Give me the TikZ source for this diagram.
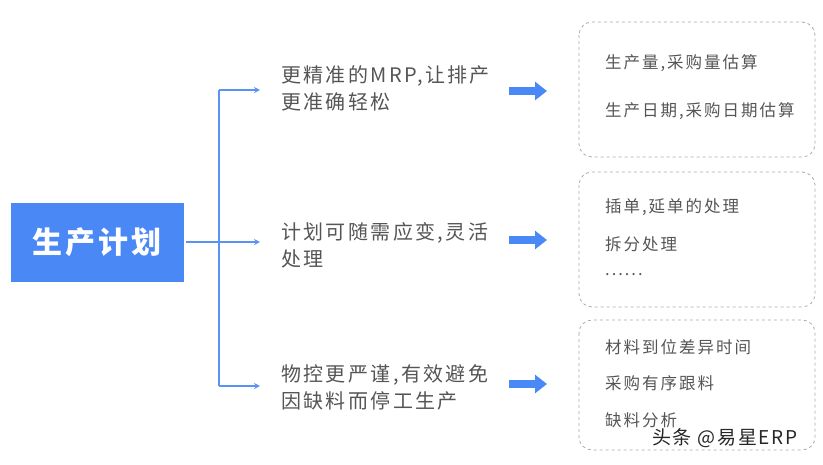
\documentclass[tikz,border=0pt]{standalone}
\usepackage{fontspec}
\setmainfont{Noto Sans CJK SC}
\usetikzlibrary{arrows.meta}
\definecolor{mainblue}{HTML}{4A88F6}
\definecolor{linkblue}{HTML}{5B93F5}
\definecolor{txtgray}{HTML}{555555}
\definecolor{boxgray}{HTML}{AAAAAA}
\tikzset{
  x=1pt, y=-1pt,
  thin arrow/.style={draw=linkblue, line width=1.2pt, -{Stealth[length=6pt,width=6pt]}},
  big arrow/.style={draw=mainblue, line width=7.5pt, -{Triangle[length=12pt,width=18pt]}},
  branch text/.style={anchor=north west, align=left, text=txtgray, font=\fontsize{20}{27}\selectfont\addfontfeature{LetterSpace=12}, inner sep=0pt},
  dash box/.style={draw=boxgray, dashed, line width=0.8pt, rounded corners=13pt},
  item text/.style={anchor=west, text=txtgray, font=\fontsize{16.5}{18}\selectfont\addfontfeature{LetterSpace=12}, inner sep=0pt},
}
\begin{document}
\begin{tikzpicture}
\useasboundingbox (0,0) rectangle (823,465);
\node[fill=mainblue, minimum width=173pt, minimum height=79pt, inner sep=0pt, text=white,
  font=\fontsize{30}{32}\selectfont\bfseries\addfontfeature{LetterSpace=11}] (main) at (97,242.5) {生产计划};
\coordinate (split) at (219,242);
\coordinate (topc) at (219,90);
\coordinate (botc) at (219,386);
\coordinate (topend) at (260,90);
\coordinate (midend) at (260,242);
\coordinate (botend) at (260,386);
\draw[thin arrow] (186,242) -- (midend);
\draw[draw=linkblue, line width=1.2pt] (topc) -- (botc);
\draw[thin arrow] (topc) -- (topend);
\draw[thin arrow] (botc) -- (botend);

\node[branch text] (t1) at (281,65) {更精准的MRP,让排产\\更准确轻松};
\node[branch text] (t2) at (281,222) {计划可随需应变,灵活\\处理};
\node[branch text] (t3) at (281,364) {物控更严谨,有效避免\\因缺料而停工生产};

\coordinate (a1s) at (509,91); \coordinate (a1e) at (547,91);
\coordinate (a2s) at (509,240); \coordinate (a2e) at (547,240);
\coordinate (a3s) at (509,384); \coordinate (a3e) at (547,384);
\draw[big arrow] (a1s) -- (a1e);
\draw[big arrow] (a2s) -- (a2e);
\draw[big arrow] (a3s) -- (a3e);

\draw[dash box] (579,22) rectangle (815,157);
\draw[dash box] (579,172) rectangle (815,307);
\draw[dash box] (579,320) rectangle (815,450);

\node[item text] (i1) at (605,63) {生产量,采购量估算};
\node[item text] (i2) at (605,111) {生产日期,采购日期估算};
\node[item text] (i3) at (605,207) {插单,延单的处理};
\node[item text] (i4) at (605,244) {拆分处理};
\node[item text] (i5) at (605,275) {......};
\node[item text] (i6) at (605,347) {材料到位差异时间};
\node[item text] (i7) at (605,383) {采购有序跟料};
\node[item text] (i8) at (605,420) {缺料分析};

\node[anchor=west, inner sep=0pt, text=black!85, font=\fontsize{19}{19}\selectfont\addfontfeature{LetterSpace=9}] (wm) at (652,438) {头条 @易星ERP};
\end{tikzpicture}
\end{document}
